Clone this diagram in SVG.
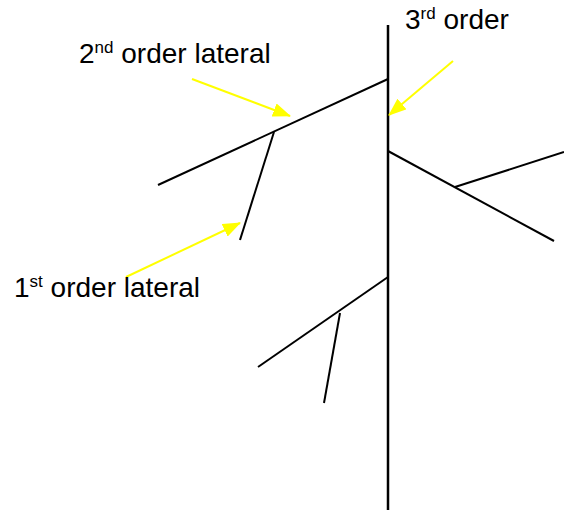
<svg xmlns="http://www.w3.org/2000/svg" width="564" height="512" viewBox="0 0 564 512">
<style>
.br{stroke:#000;stroke-width:2;fill:none}
.ar{stroke:#FFFF00;stroke-width:2;fill:none;marker-end:url(#ah)}
.lb{font-family:"Liberation Sans",Arial,sans-serif;font-size:28px;fill:#000}
.sup{font-size:17px}
</style>
<defs>
<marker id="ah" viewBox="0 0 18 14" refX="17" refY="7" markerWidth="18" markerHeight="14" markerUnits="userSpaceOnUse" orient="auto">
<path d="M0,0 L18,7 L0,14 z" fill="#FFFF00"/>
</marker>
</defs>
<g id="stem">
<line class="br" x1="388" y1="25" x2="388" y2="510" style="stroke-width:2.5"/>
</g>
<g id="branch-upper-left">
<line class="br" x1="388" y1="79" x2="158" y2="185"/>
<line class="br" x1="274" y1="132" x2="240" y2="240"/>
</g>
<g id="branch-right">
<line class="br" x1="388" y1="151" x2="554" y2="241"/>
<line class="br" x1="455" y1="187" x2="564" y2="152"/>
</g>
<g id="branch-lower-left">
<line class="br" x1="388" y1="277" x2="258" y2="367"/>
<line class="br" x1="340" y1="313" x2="324" y2="403"/>
</g>
<g id="connectors">
<line class="ar" x1="192" y1="79" x2="290" y2="116"/>
<line class="ar" x1="453" y1="61" x2="389" y2="115"/>
<line class="ar" x1="126" y1="277" x2="240" y2="223"/>
</g>
<g id="label-3rd">
<text class="lb" x="405" y="29">3<tspan class="sup" dy="-10">rd</tspan><tspan dy="10"> order</tspan></text>
</g>
<g id="label-2nd">
<text class="lb" x="79" y="63">2<tspan class="sup" dy="-10">nd</tspan><tspan dy="10"> order lateral</tspan></text>
</g>
<g id="label-1st">
<text class="lb" x="14" y="297">1<tspan class="sup" dy="-10">st</tspan><tspan dy="10"> order lateral</tspan></text>
</g>
</svg>
